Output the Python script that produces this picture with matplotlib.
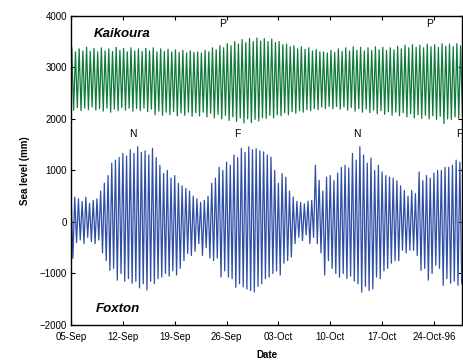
import numpy as np
import matplotlib
matplotlib.use("Agg")
import matplotlib.pyplot as plt

plt.rcParams["font.family"] = ["Liberation Sans", "DejaVu Sans"]

GREEN = "#0f7a3a"
BLUE = "#2f4fa6"

# tide extremes, two tides per day starting 05-Sep-96
kai_high = [3380, 3300, 3360, 3320, 3390, 3310, 3370, 3300, 3380, 3320,
            3360, 3310, 3390, 3330, 3370, 3300, 3380, 3320, 3360, 3310,
            3370, 3320, 3380, 3300, 3360, 3310, 3350, 3300, 3340, 3290,
            3330, 3280, 3320, 3290, 3300, 3280, 3330, 3300, 3380, 3340,
            3420, 3380, 3460, 3420, 3500, 3450, 3540, 3480, 3560, 3500,
            3570, 3510, 3560, 3500, 3550, 3480, 3500, 3440, 3450, 3400,
            3420, 3360, 3400, 3350, 3380, 3320, 3350, 3300, 3300, 3280,
            3330, 3290, 3360, 3310, 3380, 3320, 3400, 3330, 3390, 3320,
            3380, 3330, 3400, 3340, 3390, 3330, 3380, 3340, 3410, 3360,
            3430, 3380, 3440, 3390, 3430, 3380, 3450, 3400, 3440, 3390,
            3460, 3410, 3450, 3400, 3460, 3420]
kai_low = [2170, 2220, 2160, 2210, 2180, 2230, 2170, 2200, 2150, 2210,
           2130, 2190, 2160, 2220, 2170, 2210, 2150, 2200, 2160, 2210,
           2140, 2190, 2080, 2150, 2070, 2130, 2080, 2140, 2060, 2120,
           2070, 2130, 2050, 2120, 2060, 2130, 2040, 2110, 2020, 2090,
           2000, 2070, 1970, 2040, 1950, 2020, 1920, 2000, 1930, 1990,
           1960, 2020, 2010, 2070, 2020, 2080, 2060, 2120, 2080, 2140,
           2110, 2160, 2130, 2180, 2160, 2200, 2180, 2230, 2200, 2240,
           2200, 2240, 2190, 2230, 2170, 2220, 2150, 2200, 2130, 2190,
           2120, 2170, 2100, 2160, 2090, 2140, 2070, 2130, 2060, 2120,
           2040, 2100, 2020, 2080, 2010, 2070, 2000, 2060, 1990, 2050,
           1910, 2000, 1990, 2040, 2010, 2060]

fox_high = [580, 480, 450, 400, 480, 360, 420, 450, 600, 750,
            900, 1140, 1200, 1250, 1330, 1280, 1400, 1330, 1460, 1350,
            1380, 1300, 1430, 1250, 1100, 940, 1000, 850, 900, 750,
            700, 650, 600, 500, 450, 380, 420, 500, 750, 850,
            1060, 1000, 1160, 1100, 1300, 1250, 1430, 1350, 1460, 1400,
            1420, 1380, 1360, 1300, 1260, 1000, 750, 940, 870, 600,
            480, 400, 380, 350, 400, 420, 1100, 810, 600, 870,
            900, 800, 950, 1060, 1100, 1050, 1330, 1200, 1460, 1300,
            1140, 1240, 1000, 1100, 970, 900, 870, 850, 800, 700,
            610, 500, 610, 550, 970, 800, 900, 850, 950, 1000,
            1000, 1060, 1060, 1100, 1200, 1160]
fox_low = [-705, -400, -350, -420, -300, -380, -420, -350, -600, -750,
           -940, -900, -1130, -1000, -1150, -1100, -1190, -1150, -1280, -1200,
           -1320, -1150, -1200, -1100, -1070, -1000, -1050, -950, -1030, -900,
           -750, -610, -650, -570, -420, -650, -500, -700, -750, -700,
           -1070, -950, -1070, -1100, -1270, -1200, -1260, -1300, -1330, -1360,
           -1250, -1200, -1100, -1070, -1000, -950, -1030, -800, -750, -680,
           -420, -300, -360, -250, -420, -300, -420, -600, -1030, -750,
           -900, -1000, -1070, -1000, -1100, -1050, -1150, -1200, -1360, -1250,
           -1330, -1300, -1070, -1100, -950, -900, -800, -750, -750, -550,
           -600, -550, -550, -650, -940, -900, -1130, -1000, -840, -900,
           -1230, -1100, -1190, -1150, -1230, -1200]

tick_days = [0, 7, 14, 21, 28, 35, 42, 49]
tick_labels = ["05-Sep", "12-Sep", "19-Sep", "26-Sep", "03-Oct", "10-Oct", "17-Oct", "24-Oct-96"]

# phase labels: (text, day, level)
phase_marks = [("P", 20.5, 3840), ("P", 48.4, 3840),
               ("N", 8.4, 1700), ("F", 22.4, 1700), ("N", 38.6, 1700), ("F", 52.4, 1700)]


def tide_series(highs, lows, t0):
    # interleave high and low waters, half a day per tide
    t_hi = t0 + 0.5 * np.arange(len(highs))
    t_lo = t_hi + 0.25
    t = np.empty(2 * len(highs)); v = np.empty(2 * len(highs))
    t[0::2], t[1::2] = t_hi, t_lo
    v[0::2], v[1::2] = highs, lows
    return t, v


fig = plt.figure(figsize=(4.63, 3.6), dpi=100)
ax = fig.add_axes([0.1534, 0.0972, 0.8446, 0.8588])

tk, vk = tide_series(kai_high, kai_low, 0.1)
tf, vf = tide_series(fox_high, fox_low, 0.0)
ax.plot(tk, vk, color=GREEN, linewidth=0.9)
ax.plot(tf, vf, color=BLUE, linewidth=0.9)

ax.set_xlim(0, 52.8)
ax.set_ylim(-2000, 4000)
ax.set_yticks(range(-2000, 4001, 1000))
ax.set_xticks(tick_days)
ax.set_xticklabels(tick_labels)
ax.tick_params(direction="in", length=3, width=0.8, labelsize=7,
               top=True, right=True)
ax.tick_params(axis="x", pad=5)
ax.tick_params(axis="y", pad=3)
for s in ax.spines.values():
    s.set_linewidth(1.0)

for txt, d, lev in phase_marks:
    ax.text(d, lev, txt, ha="center", va="center", fontsize=7.5, clip_on=False)

ax.text(6.9, 3645, "Kaikoura", ha="center", va="center", fontsize=9.5,
        fontweight="bold", style="italic")
ax.text(6.3, -1680, "Foxton", ha="center", va="center", fontsize=9.5,
        fontweight="bold", style="italic")

ax.set_ylabel("Sea level (mm)", fontsize=7, fontweight="bold", labelpad=7)
ax.set_xlabel("Date", fontsize=7, fontweight="bold", labelpad=6)

plt.savefig("out.png", dpi=100)
plt.close()
